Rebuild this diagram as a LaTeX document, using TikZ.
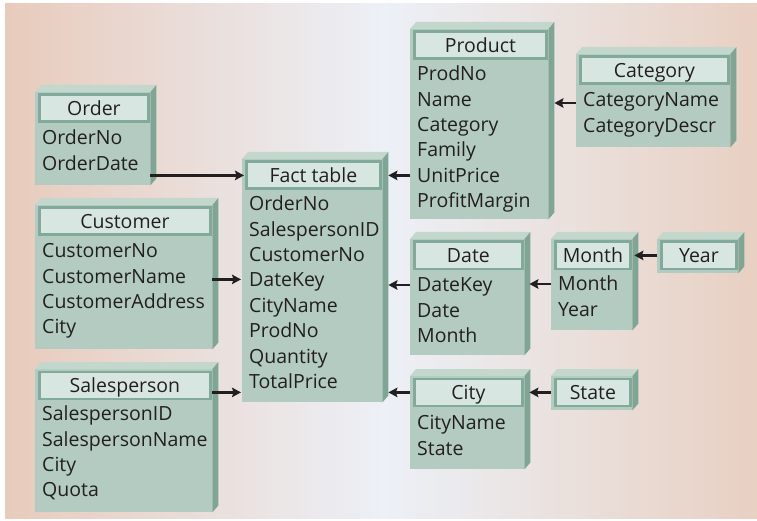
\documentclass[tikz,border=0pt]{standalone}
\usepackage{fontspec}
\setmainfont{Open Sans}
\usetikzlibrary{arrows.meta,calc}
\definecolor{bgpeach}{HTML}{E8CBBC}
\definecolor{bgpeachr}{HTML}{E8D0C2}
\definecolor{bgmid}{HTML}{ECF0F7}
\definecolor{frontc}{HTML}{B3CBC0}
\definecolor{topc}{HTML}{C3D7CD}
\definecolor{sidec}{HTML}{7FA595}
\definecolor{hdrc}{HTML}{D8E6E1}
\definecolor{hdrline}{HTML}{82AA9A}
\definecolor{inkc}{HTML}{231F20}
\tikzset{
  front/.style={fill=frontc,draw=none,inner sep=0,anchor=north west},
  hdr/.style={fill=hdrc,draw=hdrline,line width=2.8pt,inner sep=0,anchor=north west,
     minimum height=27pt,text height=13.5pt,text depth=0pt,font=\fontsize{19.5}{22}\selectfont,text=inkc},
  fld/.style={inner sep=0,anchor=west,text height=13.5pt,text depth=0pt,
     font=\fontsize{19.5}{22}\selectfont,text=inkc},
  arr/.style={draw=inkc,line width=2.3pt,-{Stealth[length=9pt,width=9.5pt,inset=1.5pt]}},
}
% \tbl{name}{left}{top}{width}{bottom}{title}
\newcommand{\tbl}[6]{%
  \node[front,minimum width=#4pt,minimum height={(#5-#3)*1pt}] (#1) at (#2,#3) {};
  \fill[topc] (#1.north west) -- ++(6,-7) -- ([shift={(6,-7)}]#1.north east) -- (#1.north east) -- cycle;
  \fill[sidec] (#1.north east) -- ++(6,-7) -- ([shift={(6,-7)}]#1.south east) -- (#1.south east) -- cycle;
  \node[hdr,minimum width={(#4-6)*1pt}] (#1h) at ($(#1.north west)+(3,1.5)$) {#6};
}
% \fields{name}{first y}{list}
\newcommand{\fields}[3]{%
  \foreach \t [count=\i] in {#3} {
    \node[fld] (#1f\i) at ($(#1.west |- 0,#2)+(7,{(\i-1)*25.4})$) {\t};
  }%
}
\begin{document}
\begin{tikzpicture}[x=1pt,y=-1pt]
\useasboundingbox (0,0) rectangle (757,521);
\fill[white] (0,0) rectangle (757,521);
\shade[left color=bgpeach,right color=bgmid,shading angle=90] (5,4) rectangle (385,518);
\shade[left color=bgmid,right color=bgpeachr] (385,4) rectangle (757,518);
% tables
\tbl{order}{35}{92}{115}{185}{Order}
\fields{order}{138}{OrderNo,OrderDate}
\tbl{fact}{242}{159}{140}{402}{Fact table}
\fields{fact}{204}{OrderNo,SalespersonID,CustomerNo,DateKey,CityName,ProdNo,Quantity,TotalPrice}
\tbl{prod}{410}{29}{138}{219}{Product}
\fields{prod}{74}{ProdNo,Name,Category,Family,UnitPrice,ProfitMargin}
\tbl{cat}{576}{54}{154}{147}{Category}
\fields{cat}{100}{CategoryName,CategoryDescr}
\tbl{cust}{35}{205}{177}{349}{Customer}
\fields{cust}{251}{CustomerNo,CustomerName,CustomerAddress,City}
\tbl{sp}{35}{369}{177}{512}{Salesperson}
\fields{sp}{414}{SalespersonID,SalespersonName,City,Quota}
\tbl{date}{410}{239}{114}{355}{Date}
\fields{date}{285}{DateKey,Date,Month}
\tbl{month}{551}{239}{81}{330}{Month}
\fields{month}{284}{Month,Year}
\tbl{year}{657}{239}{81}{273}{Year}
\tbl{city}{410}{376}{114}{469}{City}
\fields{city}{423}{CityName,State}
\tbl{state}{551}{376}{81}{410}{State}
% connectors
\draw[arr] (order.east |- facth.west) -- ([xshift=-1pt]facth.west);
\draw[arr] ([yshift=-3pt]custf2.center -| cust.east) -- ([yshift=-3pt,xshift=-1pt]custf2.center -| fact.west);
\draw[arr] ([yshift=-7pt]sph.center -| sp.east) -- ([yshift=-7pt,xshift=-1pt]sph.center -| fact.west);
\draw[arr] (prod.west |- facth.west) -- ([xshift=6pt]fact.east |- facth.west);
\draw[arr] (datef1.west -| date.west) -- ([xshift=6pt]fact.east |- datef1.west);
\draw[arr] (cityh.west -| city.west) -- ([xshift=6pt]fact.east |- cityh.west);
\draw[arr] ([yshift=-3pt]catf1.west -| cat.west) -- ([yshift=-3pt,xshift=6pt]prod.east |- catf1.west);
\draw[arr] (monthf1.west -| month.west) -- ([xshift=5pt]date.east |- monthf1.west);
\draw[arr] (yearh.west -| year.west) -- ([xshift=2pt]month.east |- yearh.west);
\draw[arr] (stateh.west -| state.west) -- ([xshift=5pt]city.east |- stateh.west);
\end{tikzpicture}
\end{document}
